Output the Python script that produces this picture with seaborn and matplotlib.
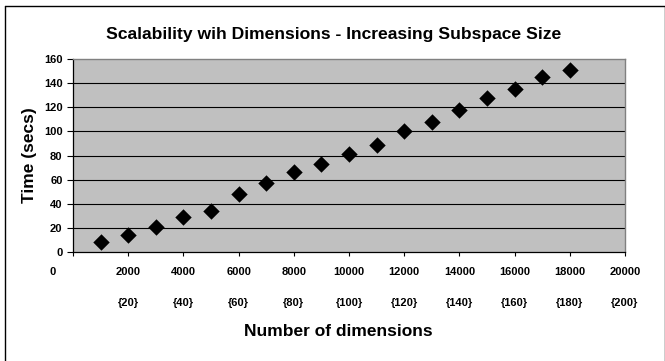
import matplotlib
matplotlib.use("Agg")
import matplotlib.pyplot as plt
import matplotlib.transforms as mtransforms
from matplotlib.lines import Line2D
import seaborn as sns
import pandas as pd

dimensions = [1000, 2000, 3000, 4000, 5000, 6000, 7000, 8000, 9000,
              10000, 11000, 12000, 13000, 14000, 15000, 16000, 17000, 18000]
time_secs = [8, 14, 21, 29, 34, 48, 57, 66, 73, 81, 89, 100, 108, 118, 128, 135, 145, 151]
x_ticks = [0, 2000, 4000, 6000, 8000, 10000, 12000, 14000, 16000, 18000, 20000]
y_ticks = [0, 20, 40, 60, 80, 100, 120, 140, 160]
sub_pos = [2000, 4000, 6000, 8000, 10000, 12000, 14000, 16000, 18000, 20000]
sub_labels = ["{20}", "{40}", "{60}", "{80}", "{100}", "{120}", "{140}", "{160}", "{180}", "{200}"]

sns.set_theme(style="white")
plt.rcParams['font.family'] = ['Liberation Sans', 'DejaVu Sans']
plt.rcParams['font.weight'] = 'bold'
plt.rcParams['text.color'] = 'black'
plt.rcParams['axes.labelcolor'] = 'black'
plt.rcParams['xtick.color'] = 'black'
plt.rcParams['ytick.color'] = 'black'

df = pd.DataFrame({"dim": dimensions, "time": time_secs})

W, H = 665, 361
fig = plt.figure(figsize=(W / 100, H / 100), dpi=100)
L, R, T, B = 73, 625, 59, 252
ax = fig.add_axes([L / W, 1 - B / H, (R - L) / W, (B - T) / H])
ax.set_facecolor("#C0C0C0")

for y in y_ticks[1:-1]:
    ax.axhline(y, color="black", lw=0.8, zorder=1)

sns.scatterplot(data=df, x="dim", y="time", marker="D", s=70, color="black",
                edgecolor="black", linewidth=0, ax=ax, zorder=3)

ax.set_xlim(0, 20000)
ax.set_ylim(0, 160)
ax.set_xticks(x_ticks)
ax.set_yticks(y_ticks)
ax.set_xticklabels([str(v) for v in x_ticks], fontsize=8, fontweight="bold", color="black")
ax.set_yticklabels([str(v) for v in y_ticks], fontsize=8, fontweight="bold", color="black")
ax.tick_params(axis="x", which="both", direction="out", length=3, width=0.8,
               color="black", pad=8, bottom=True)
ax.tick_params(axis="y", which="both", direction="out", length=4.5, width=0.8,
               color="black", pad=3, left=True)

# Excel places the "0" category label a bit to the left
lab0 = ax.get_xticklabels()[0]
lab0.set_transform(lab0.get_transform() +
                   mtransforms.ScaledTranslation(-0.20, 0, fig.dpi_scale_trans))

for s in ["top", "right"]:
    ax.spines[s].set_color("#808080")
    ax.spines[s].set_linewidth(1.0)
for s in ["left", "bottom"]:
    ax.spines[s].set_color("black")
    ax.spines[s].set_linewidth(0.9)

ax.set_xlabel("")
ax.set_ylabel("Time (secs)", fontsize=12.5, fontweight="bold", color="black")
ax.yaxis.set_label_coords((37 - L) / (R - L), 0.5)

trans = mtransforms.blended_transform_factory(ax.transData, fig.transFigure)
for p, lab in zip(sub_pos, sub_labels):
    ax.text(p, 1 - 302.5 / H, lab, transform=trans, ha="center", va="center",
            fontsize=8, fontweight="bold", color="black")

fig.text(338 / W, 1 - 332 / H, "Number of dimensions", ha="center",
         va="center", fontsize=12.5, fontweight="bold", color="black")
fig.text(334 / W, 1 - 34 / H,
         "Scalability wih Dimensions - Increasing Subspace Size",
         ha="center", va="center", fontsize=12.6, fontweight="bold", color="black")

# chart frame (left, top, right visible)
fx0, fx1, fy0 = 5.5 / W, 664.5 / W, 1 - 5.5 / H
fig.add_artist(Line2D([fx0, fx0], [0, fy0], transform=fig.transFigure, color="black", lw=1.0))
fig.add_artist(Line2D([fx0, fx1], [fy0, fy0], transform=fig.transFigure, color="black", lw=1.0))
fig.add_artist(Line2D([fx1, fx1], [0, fy0], transform=fig.transFigure, color="black", lw=1.0))

fig.savefig("out.png", dpi=100)
